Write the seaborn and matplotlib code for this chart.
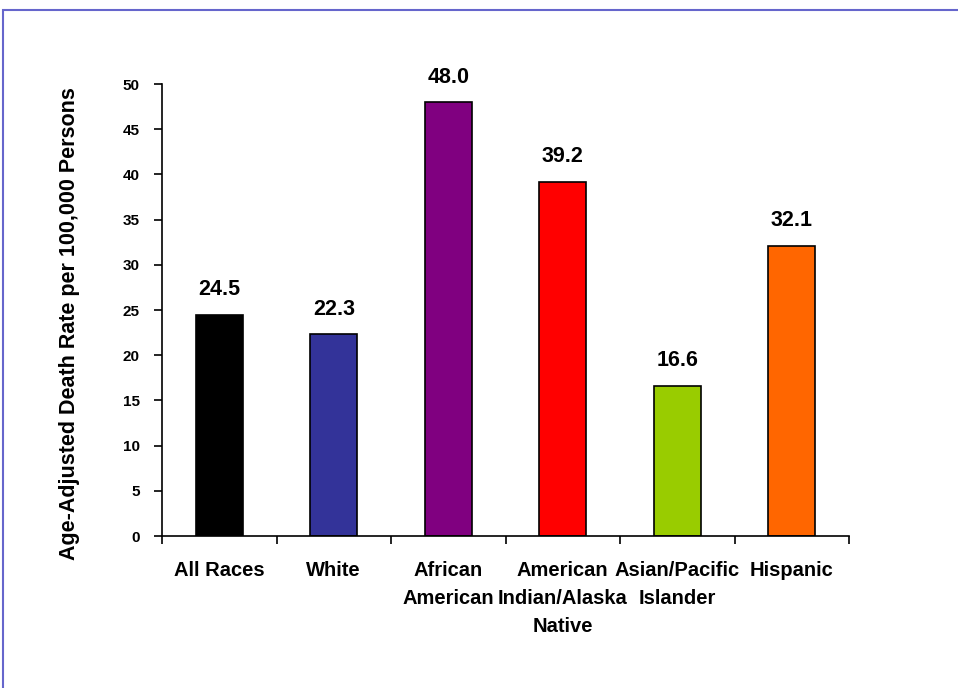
import numpy as np
import pandas as pd
import matplotlib
matplotlib.use("Agg")
import matplotlib.pyplot as plt
from matplotlib.patches import Rectangle
import seaborn as sns

# Data
categories = ["All Races", "White", "African\nAmerican", "American\nIndian/Alaska\nNative",
              "Asian/Pacific\nIslander", "Hispanic"]
rates = [24.5, 22.3, 48.0, 39.2, 16.6, 32.1]
bar_colors = ["#000000", "#333399", "#800080", "#FF0000", "#99CC00", "#FF6600"]
y_ticks = [0, 5, 10, 15, 20, 25, 30, 35, 40, 45, 50]

df = pd.DataFrame({"group": categories, "rate": rates})

sns.set_style("white")
plt.rcParams['font.family'] = ['Liberation Sans', 'DejaVu Sans']
plt.rcParams['text.color'] = 'black'
plt.rcParams['xtick.color'] = 'black'
plt.rcParams['ytick.color'] = 'black'
plt.rcParams['axes.labelcolor'] = 'black'

fig = plt.figure(figsize=(9.58, 6.88), dpi=100)
ax = fig.add_axes([162 / 958, 1 - 536 / 688, (849 - 162) / 958, (536 - 84) / 688])

sns.barplot(data=df, x="group", y="rate", hue="group", palette=bar_colors,
            legend=False, width=0.41, saturation=1, edgecolor="black",
            linewidth=1.2, ax=ax)

# Value labels
for i, v in enumerate(rates):
    ax.text(i, v + 1.6, f"{v:.1f}", ha="center", va="bottom",
            fontsize=15.5, fontweight="bold")

ax.set_xlim(-0.5, 5.5)
ax.set_ylim(0, 50)
ax.set_yticks(y_ticks)
ax.set_yticklabels([str(t) for t in y_ticks], fontsize=11, fontweight="bold")

# tick marks between categories, labels at the centers
ax.set_xticks(np.arange(-0.5, 6, 1))
ax.set_xticklabels([])
ax.set_xticks(range(len(categories)), minor=True)
ax.set_xticklabels(categories, minor=True, fontsize=14.5, fontweight="bold",
                   linespacing=1.6)
ax.tick_params(axis="x", which="minor", length=0, pad=18)
ax.tick_params(axis="x", which="major", length=6, width=1.2, direction="out", bottom=True)
ax.tick_params(axis="y", length=6, width=1.2, direction="out", left=True, pad=10)

ax.set_xlabel("")
ax.set_ylabel("Age-Adjusted Death Rate per 100,000 Persons", fontsize=15.5,
              fontweight="bold")
ax.yaxis.set_label_coords(-0.12, 0.47)

for side in ["top", "right"]:
    ax.spines[side].set_visible(False)
for side in ["left", "bottom"]:
    ax.spines[side].set_color("black")
    ax.spines[side].set_linewidth(1.2)

# outer frame
fig.patches.append(Rectangle((3 / 958, -0.1), 1.2, 1 - 10 / 688 + 0.1,
                             transform=fig.transFigure, fill=False,
                             edgecolor="#6666CC", linewidth=1.5))

fig.savefig("out.png", dpi=100)
